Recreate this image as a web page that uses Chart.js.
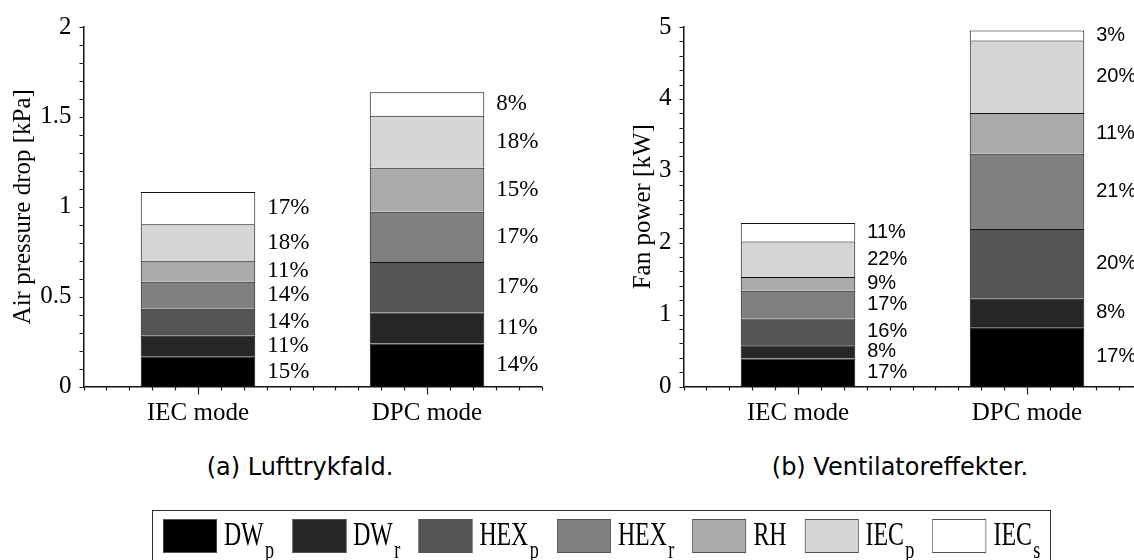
<!DOCTYPE html>
<html>
<head>
<meta charset="utf-8">
<script src="https://cdn.jsdelivr.net/npm/chart.js@4/dist/chart.umd.min.js"></script>
<style>
  html, body { margin: 0; padding: 0; background: #fff; overflow: hidden; }
  #wrap { position: relative; width: 1134px; height: 560px; overflow: hidden; background: #fff; }
  canvas { position: absolute; top: 0; }
  .cap { position: absolute; top: 452px; width: 600px; text-align: center;
         font-family: 'DejaVu Sans', sans-serif; font-size: 24px; line-height: 30px; color: #000; }
  #legend { position: absolute; left: 152px; top: 510px; width: 899px; height: 60px;
            border: 1.5px solid #333; box-sizing: border-box; background: #fff; }
  #legendRow { position: absolute; left: 9.5px; top: 7.5px; display: flex; gap: 26px;
               transform: scaleX(0.7); transform-origin: 0 0; white-space: nowrap; }
  .item { display: flex; align-items: flex-start; }
  .sw { width: 77px; height: 34px; border: 1px solid #555; box-sizing: border-box; }
  .lab { margin-left: 10px; margin-top: -2px; font-family: 'Liberation Serif', serif;
         font-size: 34px; line-height: 34px; color: #000; }
  .lab span { font-size: 26px; position: relative; top: 13px; margin-left: 2px; }
</style>
</head>
<body>
<div id="wrap">
  <canvas id="c1" width="600" height="440" style="left:0"></canvas>
  <canvas id="c2" width="600" height="440" style="left:600px"></canvas>
  <div class="cap" style="left:0">(a) Lufttrykfald.</div>
  <div class="cap" style="left:600px">(b) Ventilatoreffekter.</div>
  <div id="legend"><div id="legendRow"></div></div>
</div>
<script>
const modes = ['IEC mode', 'DPC mode'];

// components, bottom to top of each stack
const compName = ['DW', 'DW', 'HEX', 'HEX', 'RH', 'IEC', 'IEC'];
const compSub  = ['p', 'r', 'p', 'r', '', 'p', 's'];
const compColor = ['#000000', '#262626', '#555555', '#808080', '#aaaaaa', '#d6d6d6', '#ffffff'];

// (a) air pressure drop [kPa]
const pressureIEC = [0.165, 0.118, 0.149, 0.151, 0.116, 0.203, 0.180];
const pressureDPC = [0.239, 0.173, 0.280, 0.280, 0.245, 0.289, 0.131];
const pressurePctIEC = ['15%', '11%', '14%', '14%', '11%', '18%', '17%'];
const pressurePctDPC = ['14%', '11%', '17%', '17%', '15%', '18%', '8%'];

// (b) fan power [kW]
const powerIEC = [0.388, 0.187, 0.370, 0.385, 0.194, 0.492, 0.257];
const powerDPC = [0.825, 0.397, 0.970, 1.044, 0.568, 1.008, 0.138];
const powerPctIEC = ['17%', '8%', '16%', '17%', '9%', '22%', '11%'];
const powerPctDPC = ['17%', '8%', '20%', '21%', '11%', '20%', '3%'];

// percentage text to the right of every segment
const pctLabels = {
  id: 'pctLabels',
  afterDatasetsDraw(chart, args, opts) {
    const ctx = chart.ctx;
    ctx.save();
    ctx.font = opts.font;
    ctx.fillStyle = '#000';
    ctx.textAlign = 'left';
    ctx.textBaseline = 'middle';
    chart.data.datasets.forEach((ds, i) => {
      chart.getDatasetMeta(i).data.forEach((bar, j) => {
        const p = bar.getProps(['x', 'y', 'base', 'width'], true);
        ctx.fillText(opts.labels[j][i], p.x + p.width / 2 + 12, (p.y + p.base) / 2);
      });
    });
    ctx.restore();
  }
};

// small outward tick marks like the original plot
const axisTicks = {
  id: 'axisTicks',
  afterDraw(chart, args, opts) {
    const {ctx, chartArea: a, scales: {x, y}} = chart;
    ctx.save();
    ctx.strokeStyle = '#222';
    ctx.lineWidth = 1.2;
    ctx.beginPath();
    const n = Math.round(y.max / opts.minor);
    for (let k = 0; k <= n; k++) {
      const py = Math.round(y.getPixelForValue(k * opts.minor)) + 0.5;
      ctx.moveTo(a.left - 4, py);
      ctx.lineTo(a.left, py);
    }
    for (let k = 0; k <= 20; k++) {
      const px = Math.round(x.getPixelForValue(-0.5 + k * 0.1)) + 0.5;
      const len = (k === 5 || k === 15) ? 8 : 4;
      ctx.moveTo(px, a.bottom);
      ctx.lineTo(px, a.bottom + len);
    }
    ctx.stroke();
    ctx.restore();
  }
};

function makeChart(id, iec, dpc, pctIec, pctDpc, yMax, yStep, minor, yTitle, titlePad, pctFont) {
  const serif = {family: 'Liberation Serif', size: 25};
  return new Chart(document.getElementById(id), {
    type: 'bar',
    data: {
      labels: modes,
      datasets: compName.map((nm, i) => ({
        label: nm + compSub[i],
        data: [iec[i], dpc[i]],
        backgroundColor: compColor[i],
        borderColor: '#111',
        borderWidth: 1,
        barPercentage: 0.5,
        categoryPercentage: 1
      }))
    },
    options: {
      responsive: false,
      animation: false,
      layout: {padding: {top: 25, right: 58.5, left: 0, bottom: 0}},
      plugins: {
        legend: {display: false},
        tooltip: {enabled: false},
        pctLabels: {font: pctFont, labels: [pctIec, pctDpc]},
        axisTicks: {minor: minor}
      },
      scales: {
        x: {
          stacked: true,
          offset: true,
          grid: {display: false, drawTicks: false},
          border: {display: true, color: '#111', width: 1.5},
          ticks: {font: serif, color: '#000', padding: 12, maxRotation: 0},
          afterFit(s) { s.height = 53.5; }
        },
        y: {
          stacked: true,
          min: 0,
          max: yMax,
          grid: {display: false, drawTicks: false},
          border: {display: true, color: '#111', width: 1.5},
          ticks: {stepSize: yStep, font: serif, color: '#000', padding: 12,
                  callback: v => String(v)},
          title: {display: true, text: yTitle, font: serif, color: '#000',
                  padding: {top: titlePad, bottom: 0}},
          afterFit(s) { s.width = 83.5; }
        }
      }
    },
    plugins: [pctLabels, axisTicks]
  });
}

makeChart('c1', pressureIEC, pressureDPC, pressurePctIEC, pressurePctDPC,
          2, 0.5, 0.1, 'Air pressure drop [kPa]', 8, '23px "Liberation Serif"');
makeChart('c2', powerIEC, powerDPC, powerPctIEC, powerPctDPC,
          5, 1, 0.2, 'Fan power [kW]', 28.5, '20px "Liberation Sans"');

// shared legend
const row = document.getElementById('legendRow');
compName.forEach((nm, i) => {
  const it = document.createElement('div');
  it.className = 'item';
  const sw = document.createElement('div');
  sw.className = 'sw';
  sw.style.background = compColor[i];
  const lab = document.createElement('div');
  lab.className = 'lab';
  lab.textContent = nm;
  if (compSub[i]) {
    const sub = document.createElement('span');
    sub.textContent = compSub[i];
    lab.appendChild(sub);
  }
  it.appendChild(sw);
  it.appendChild(lab);
  row.appendChild(it);
});
</script>
</body>
</html>
